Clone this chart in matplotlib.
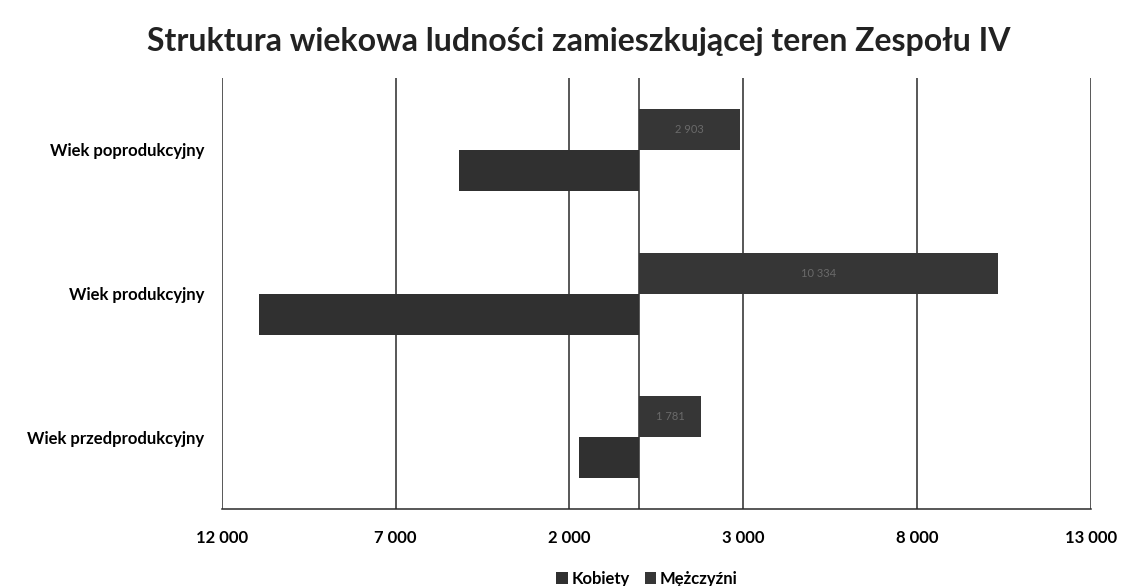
import matplotlib.pyplot as plt
import numpy as np

# data
categories = ["Wiek przedprodukcyjny", "Wiek produkcyjny", "Wiek poprodukcyjny"]
kobiety = [1726, 10935, 5181]      # drawn to the left (negative side)
mezczyzni = [1781, 10334, 2903]    # drawn to the right
tick_values = [-12000, -7000, -2000, 3000, 8000, 13000]

plt.rcParams['font.family'] = ['Lato', 'DejaVu Sans']

fig = plt.figure(figsize=(11.21, 5.86), dpi=100)
ax = fig.add_axes([0.198, 0.131, 0.775, 0.736])

y = np.arange(len(categories))
h = 0.285
bar_color = "#303030"

ax.barh(y - h / 2, [-v for v in kobiety], height=h, color=bar_color, label="Kobiety", zorder=3)
ax.barh(y + h / 2, mezczyzni, height=h, color="#363636", label="Mężczyźni", zorder=3)

# faint data labels inside the right-hand bars
for yi, v in zip(y, mezczyzni):
    ax.text(v / 2, yi + h / 2, f"{v:,}".replace(",", " "), ha="center", va="center",
            fontsize=8, color="#6a6a6a", zorder=4)

ax.set_xlim(-12000, 13000)
ax.set_ylim(-0.5, len(categories) - 0.5)

ax.set_xticks(tick_values)
ax.set_xticklabels([f"{abs(v):,}".replace(",", " ") for v in tick_values],
                   fontsize=12, fontweight="bold")
ax.set_yticks(y)
ax.set_yticklabels(categories, fontsize=12, fontweight="bold")
ax.tick_params(length=0, pad=15, axis="x")
ax.tick_params(length=0, pad=13, axis="y")

for v in tick_values:
    ax.axvline(v, color="#2a2a2a", lw=1.1, zorder=1)
ax.axvline(0, color="#2a2a2a", lw=1.1, zorder=2)

for s in ["top", "right", "left"]:
    ax.spines[s].set_visible(False)
ax.spines["bottom"].set_color("#2a2a2a")
ax.spines["bottom"].set_linewidth(1.1)

fig.text(0.516, 0.93, "Struktura wiekowa ludności zamieszkującej teren Zespołu IV",
         ha="center", va="center", fontsize=23, fontweight="bold", color="#222222")

fig.legend(loc="center", bbox_to_anchor=(0.577, 0.012), ncol=2, frameon=False,
           handlelength=0.7, handleheight=0.7, handletextpad=0.2, columnspacing=0.9,
           prop={"weight": "bold", "size": 12})

fig.savefig("out.png", dpi=100)
